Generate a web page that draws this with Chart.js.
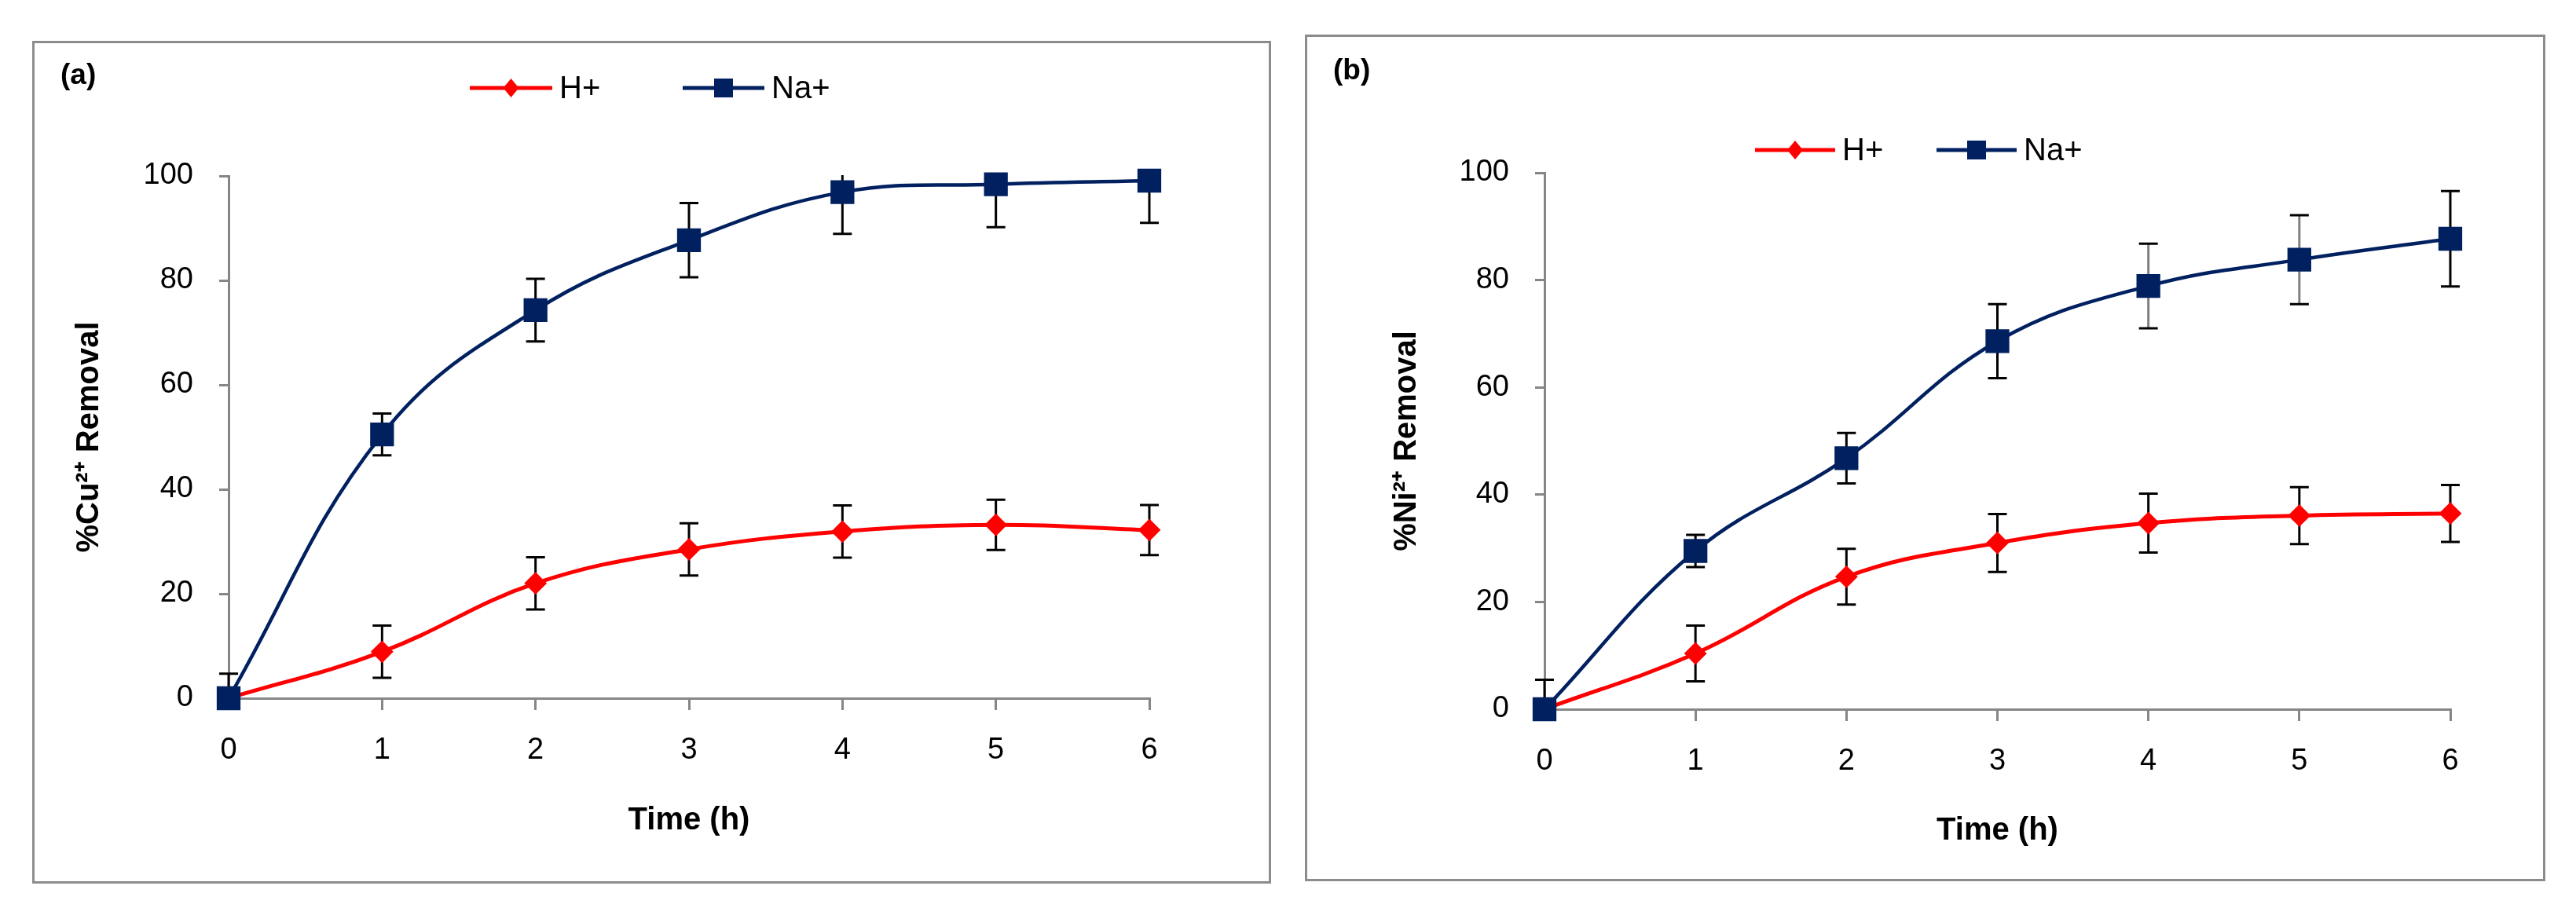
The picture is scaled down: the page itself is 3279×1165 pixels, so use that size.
<!DOCTYPE html>
<html>
<head>
<meta charset="utf-8">
<script src="https://cdn.jsdelivr.net/npm/chart.js@4.4.1/dist/chart.umd.min.js"></script>
<style>
  html, body { margin: 0; padding: 0; background: #fff; }
  body { width: 3279px; height: 1165px; position: relative; overflow: hidden; }
  .frame { position: absolute; border: 3px solid #8c8c8c; box-sizing: border-box; }
  canvas { position: absolute; top: 0; }
</style>
</head>
<body>
<div class="frame" style="left:41px;top:52px;width:1577px;height:1073px"></div>
<div class="frame" style="left:1661px;top:44px;width:1579px;height:1078px"></div>
<canvas id="chartA" width="1640" height="1165" style="left:0"></canvas>
<canvas id="chartB" width="1639" height="1165" style="left:1640px"></canvas>
<script>
// time axis and y ticks
const hours = [0, 1, 2, 3, 4, 5, 6];
const yTicks = [0, 20, 40, 60, 80, 100];

// (a) Cu2+ removal
const cuH = [0, 8.9, 22.0, 28.5, 31.9, 33.2, 32.2];
const cuHErr = [0, 5.0, 5.0, 5.0, 5.0, 4.8, 4.8];
const cuNa = [0, 50.5, 74.3, 87.7, 96.9, 98.4, 99.1];
const cuNaErr = [4.7, 4.0, 6.0, 7.1, 8.0, 8.2, 8.1];

// (b) Ni2+ removal
const niH = [0, 10.4, 24.7, 31.0, 34.7, 36.1, 36.5];
const niHErr = [0, 5.2, 5.2, 5.4, 5.5, 5.3, 5.3];
const niNa = [0, 29.5, 46.8, 68.6, 78.9, 83.8, 87.7];
const niNaErr = [5.5, 3.0, 4.7, 6.9, 7.9, 8.3, 8.9];

const RED = '#ff0000';
const NAVY = '#002060';
const AXIS = '#868686';

Chart.defaults.font.family = '"Liberation Sans", Arial, sans-serif';
Chart.defaults.color = '#000';

const pts = vals => hours.map((h, i) => ({x: h, y: vals[i]}));

// vertical error bars with caps, drawn under the markers
const errorBars = {
    id: 'errorBars',
    beforeDatasetsDraw(chart) {
        const {ctx, chartArea: a, scales: {x, y}} = chart;
        ctx.save();
        ctx.beginPath();
        ctx.rect(a.left - 40, a.top - 1, a.right - a.left + 80, a.bottom - a.top + 1);
        ctx.clip();
        ctx.lineWidth = 3;
        chart.data.datasets.forEach(ds => {
            ds.data.forEach((p, i) => {
                const e = ds.errors[i];
                if (!e) return;
                const px = x.getPixelForValue(p.x);
                const hi = y.getPixelForValue(p.y + e);
                const lo = y.getPixelForValue(p.y - e);
                ctx.strokeStyle = ds.stemColors ? ds.stemColors[i] : '#000';
                ctx.beginPath();
                ctx.moveTo(px, hi); ctx.lineTo(px, lo);
                ctx.stroke();
                ctx.strokeStyle = '#000';
                ctx.beginPath();
                ctx.moveTo(px - 12, hi); ctx.lineTo(px + 12, hi);
                ctx.moveTo(px - 12, lo); ctx.lineTo(px + 12, lo);
                ctx.stroke();
            });
        });
        ctx.restore();
    }
};

// legend (line with marker) and panel tag
const panelDecor = {
    id: 'panelDecor',
    afterDraw(chart, args, opts) {
        const ctx = chart.ctx;
        ctx.save();
        ctx.font = 'bold 37px "Liberation Sans", Arial, sans-serif';
        ctx.fillStyle = '#000';
        ctx.textBaseline = 'middle';
        ctx.fillText(opts.tag, opts.tagX, opts.tagY);
        ctx.font = '40px "Liberation Sans", Arial, sans-serif';
        opts.items.forEach(it => {
            const ds = chart.data.datasets[it.ds];
            ctx.strokeStyle = ds.borderColor;
            ctx.fillStyle = ds.borderColor;
            ctx.lineWidth = 5;
            ctx.beginPath();
            ctx.moveTo(it.x1, opts.y); ctx.lineTo(it.x2, opts.y);
            ctx.stroke();
            const cx = (it.x1 + it.x2) / 2;
            ctx.beginPath();
            if (ds.pointStyle === 'rectRot') {
                ctx.moveTo(cx, opts.y - 12); ctx.lineTo(cx + 10, opts.y);
                ctx.lineTo(cx, opts.y + 12); ctx.lineTo(cx - 10, opts.y);
                ctx.closePath();
            } else {
                ctx.rect(cx - 12, opts.y - 12, 24, 24);
            }
            ctx.fill();
            ctx.fillStyle = '#000';
            ctx.fillText(ds.label, it.x2 + 9, opts.y + 2);
        });
        ctx.restore();
    }
};

function makeChart(id, yTitle, hVals, hErr, naVals, naErr, naStem, lay, decor) {
    new Chart(document.getElementById(id), {
        type: 'line',
        data: {
            datasets: [{
                label: 'H+',
                data: pts(hVals),
                errors: hErr,
                borderColor: RED,
                backgroundColor: RED,
                borderWidth: 5,
                pointStyle: 'rectRot',
                pointRadius: 13,
                pointBorderWidth: 2,
                tension: 0.4,
                clip: false,
                order: 1
            }, {
                label: 'Na+',
                data: pts(naVals),
                errors: naErr,
                stemColors: naStem,
                borderColor: NAVY,
                backgroundColor: NAVY,
                borderWidth: 4.5,
                pointStyle: 'rect',
                pointRadius: 20,
                pointBorderWidth: 2,
                tension: 0.4,
                clip: false,
                order: 0
            }]
        },
        options: {
            responsive: false,
            animation: false,
            events: [],
            layout: {padding: {left: lay.left, top: lay.top, right: lay.right, bottom: lay.bottom}},
            plugins: {
                legend: {display: false},
                tooltip: {enabled: false},
                panelDecor: decor
            },
            scales: {
                x: {
                    type: 'linear',
                    min: 0,
                    max: 6,
                    afterBuildTicks: s => { s.ticks = hours.map(v => ({value: v})); },
                    afterFit: s => { s.height = lay.xh; },
                    grid: {drawOnChartArea: false, color: AXIS, lineWidth: 3, tickLength: 15},
                    border: {color: AXIS, width: 3},
                    ticks: {font: {size: 38}, padding: 29, maxRotation: 0},
                    title: {display: true, text: 'Time (h)', font: {size: 40, weight: 'bold'}, padding: 0}
                },
                y: {
                    min: 0,
                    max: 100,
                    afterBuildTicks: s => { s.ticks = yTicks.map(v => ({value: v})); },
                    afterFit: s => { s.width = lay.yw; },
                    grid: {drawOnChartArea: false, color: AXIS, lineWidth: 3, tickLength: 12},
                    border: {color: AXIS, width: 3},
                    ticks: {font: {size: 38}, padding: 33},
                    title: {display: true, text: yTitle, font: {size: 40, weight: 'bold'}, padding: 0}
                }
            }
        },
        plugins: [errorBars, panelDecor]
    });
}

makeChart('chartA', '%Cu²⁺ Removal', cuH, cuHErr, cuNa, cuNaErr, null,
    {left: 90, top: 224, right: 177, bottom: 96, yw: 201, xh: 180},
    {tag: '(a)', tagX: 77, tagY: 97, y: 112,
     items: [{ds: 0, x1: 598, x2: 703}, {ds: 1, x1: 869, x2: 973}]});

makeChart('chartB', '%Ni²⁺ Removal', niH, niHErr, niNa, niNaErr,
    ['#000', '#000', '#000', '#000', '#808080', '#808080', '#000'],
    {left: 127, top: 220, right: 160, bottom: 83, yw: 199, xh: 179},
    {tag: '(b)', tagX: 57, tagY: 91, y: 191,
     items: [{ds: 0, x1: 594, x2: 696}, {ds: 1, x1: 825, x2: 927}]});
</script>
</body>
</html>
